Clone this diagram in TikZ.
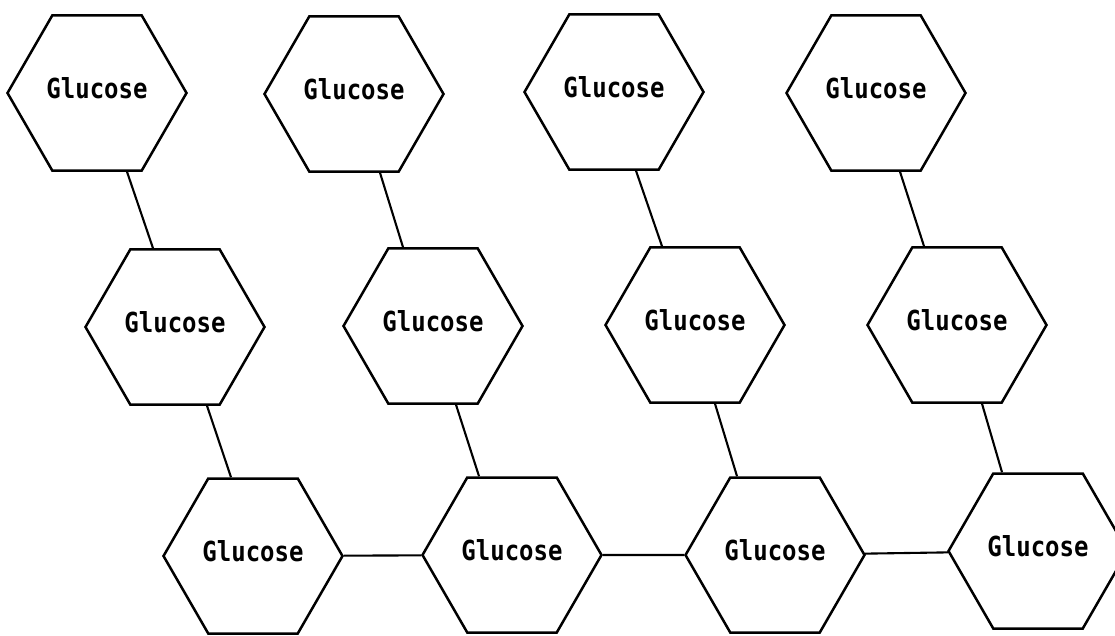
\documentclass[tikz,border=0pt]{standalone}
\usepackage{fontspec}
\newfontfamily\glcfont{DejaVu Sans Mono}
\usetikzlibrary{shapes.geometric}
\newcommand{\glc}{\scalebox{1}[1.15]{Glucose}}
\tikzset{
	hexa/.style={draw,line width=2.5pt,regular polygon,regular polygon sides=6,minimum size=179pt,inner sep=0pt,text depth=9pt,font=\glcfont\bfseries\fontsize{24}{28}\selectfont},
	bond/.style={line width=2.1pt}
}
\begin{document}
\begin{tikzpicture}[x=1pt,y=-1pt]
	\useasboundingbox (0,0) rectangle (1115,635);
	% top row
	\node[hexa](g11) at (97,93){\glc}; \node[hexa](g12) at (354,94){\glc}; \node[hexa](g13) at (614,92){\glc}; \node[hexa](g14) at (876,93){\glc};
	% middle row
	\node[hexa](g21) at (175,327){\glc}; \node[hexa](g22) at (433,326){\glc}; \node[hexa](g23) at (695,325){\glc}; \node[hexa](g24) at (957,325){\glc};
	% bottom row
	\node[hexa](g31) at (253,556){\glc}; \node[hexa](g32) at (512,555){\glc}; \node[hexa](g33) at (775,555){\glc}; \node[hexa](g34) at (1038,551){\glc};
	\draw[bond] ([xshift=30pt]g11.south)--([xshift=-22pt]g21.north) ([xshift=26pt]g12.south)--([xshift=-30pt]g22.north) ([xshift=22pt]g13.south)--([xshift=-33pt]g23.north) ([xshift=24pt]g14.south)--([xshift=-33pt]g24.north);
	\draw[bond] ([xshift=32pt]g21.south)--([xshift=-22pt]g31.north) ([xshift=23pt]g22.south)--([xshift=-33pt]g32.north) ([xshift=20pt]g23.south)--([xshift=-38pt]g33.north) ([xshift=25pt]g24.south)--([xshift=-36pt]g34.north);
	\draw[bond] (g31)--(g32) (g32)--(g33) (g33)--(g34);
\end{tikzpicture}
\end{document}
